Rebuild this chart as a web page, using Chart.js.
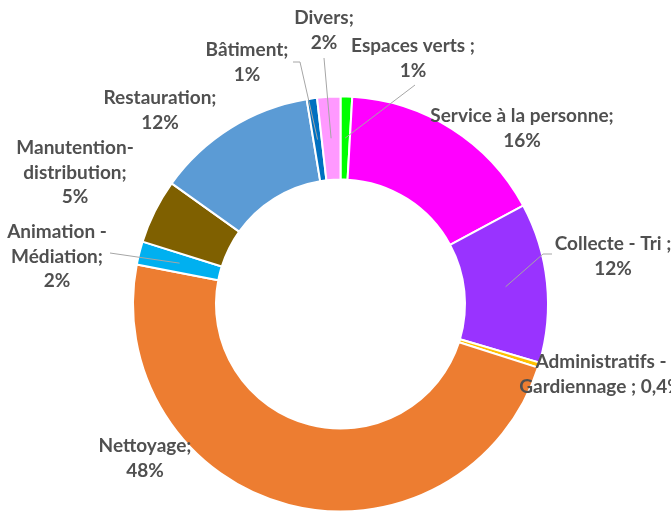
<!DOCTYPE html>
<html>
<head>
<meta charset="utf-8">
<script src="https://cdn.jsdelivr.net/npm/chart.js@4.4.1/dist/chart.umd.min.js"></script>
<style>
  html, body { margin: 0; padding: 0; background: #ffffff; overflow: hidden; }
  #wrap { width: 671px; height: 530px; }
</style>
</head>
<body>
<div id="wrap"><canvas id="c" width="671" height="530"></canvas></div>
<script>
const categories = ['Espaces verts', 'Service à la personne', 'Collecte - Tri', 'Administratifs - Gardiennage', 'Nettoyage', 'Animation - Médiation', 'Manutention-distribution', 'Restauration', 'Bâtiment', 'Divers'];
const values = [0.9, 16.2, 12.4, 0.4, 48, 1.8, 5, 12.5, 0.8, 1.8];
const pctLabels = ['1%', '16%', '12%', '0,4%', '48%', '2%', '5%', '12%', '1%', '2%'];
const labelLines = [
  ['Espaces verts ;', pctLabels[0]],
  ['Service à la personne;', pctLabels[1]],
  ['Collecte - Tri ;', pctLabels[2]],
  ['Administratifs -', 'Gardiennage ; ' + pctLabels[3]],
  ['Nettoyage;', pctLabels[4]],
  ['Animation -', 'Médiation;', pctLabels[5]],
  ['Manutention-', 'distribution;', pctLabels[6]],
  ['Restauration;', pctLabels[7]],
  ['Bâtiment;', pctLabels[8]],
  ['Divers;', pctLabels[9]]
];
const colors = ['#00FF00', '#FF00FF', '#9933FF', '#FFC000', '#ED7D31', '#00B0F0', '#7F6000', '#5B9BD5', '#0070C0', '#FF99FF'];

// label layout (text anchor: center x, first line center y)
const labelPos = [
  [413, 46], [522, 116], [613, 244], [601, 362], [145, 446],
  [57, 232], [75, 148], [160, 98], [247, 50], [324, 18]
];
// leader line start points near the labels (null = no leader)
const leaderStart = [
  [[415, 85]],
  null,
  [[552, 254], [543, 254]],
  null,
  null,
  [[110, 253]],
  null,
  null,
  [[293, 62], [300, 62]],
  [[324, 58]]
];

const labelPlugin = {
  id: 'excelLabels',
  afterDatasetsDraw(chart) {
    const ctx = chart.ctx;
    const meta = chart.getDatasetMeta(0);
    ctx.save();
    // leaders
    ctx.strokeStyle = '#A6A6A6';
    ctx.lineWidth = 1;
    meta.data.forEach((arc, i) => {
      const pts = leaderStart[i];
      if (!pts) return;
      const p = arc.getProps(['x', 'y', 'startAngle', 'endAngle', 'innerRadius', 'outerRadius'], true);
      const a = (p.startAngle + p.endAngle) / 2;
      const r = (p.innerRadius + p.outerRadius) / 2;
      const ex = p.x + Math.cos(a) * r;
      const ey = p.y + Math.sin(a) * r;
      ctx.beginPath();
      ctx.moveTo(pts[0][0], pts[0][1]);
      for (let k = 1; k < pts.length; k++) ctx.lineTo(pts[k][0], pts[k][1]);
      ctx.lineTo(ex, ey);
      ctx.stroke();
    });
    // texts
    ctx.fillStyle = '#505050';
    ctx.font = 'bold 19px Lato';
    ctx.textAlign = 'center';
    ctx.textBaseline = 'middle';
    labelLines.forEach((lines, i) => {
      const [x, y] = labelPos[i];
      lines.forEach((t, k) => ctx.fillText(t, x, y + k * 24.6));
    });
    ctx.restore();
  }
};

new Chart(document.getElementById('c'), {
  type: 'doughnut',
  data: {
    labels: categories,
    datasets: [{
      data: values,
      backgroundColor: colors,
      borderColor: '#ffffff',
      borderWidth: 2,
      hoverOffset: 0
    }]
  },
  options: {
    responsive: false,
    animation: false,
    cutout: '60%',
    layout: { padding: { left: 132, right: 122, top: 95.5, bottom: 17.5 } },
    plugins: { legend: { display: false }, tooltip: { enabled: false } }
  },
  plugins: [labelPlugin]
});
</script>
</body>
</html>
